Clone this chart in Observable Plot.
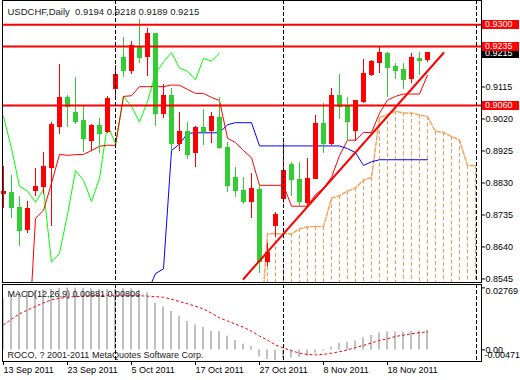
<!DOCTYPE html>
<html><head><meta charset="utf-8">
<script src="https://cdn.jsdelivr.net/npm/d3@7"></script>
<script src="https://cdn.jsdelivr.net/npm/@observablehq/plot@0.6"></script>
<style>
html,body{margin:0;padding:0;background:#fff;}
#chart{width:520px;height:380px;overflow:hidden;background:#fff;}
#chart svg{display:block;}
</style></head><body><div id="chart"></div>
<script>
// ---- Daily USDCHF bars, 13 Sep 2011 (index 0) .. 25 Nov 2011 (index 53)
const open  = [0.8797,0.8799,0.8757,0.8689,0.8805,0.8818,0.8874,0.8996,0.9083,0.9039,
               0.9013,0.8956,0.9000,0.8981,0.9108,0.9200,0.9162,0.9230,0.9204,0.9271,
               0.9034,0.9087,0.8945,0.8980,0.8918,0.8992,0.8984,0.9024,0.8935,0.8846,
               0.8805,0.8775,0.8808,0.8595,0.8703,0.8782,0.8882,0.8840,0.8772,0.8841,
               0.9004,0.8945,0.9087,0.9060,0.8984,0.9070,0.9150,0.9187,0.9214,0.9175,
               0.9164,0.9138,0.9198,0.9194];
const high  = [0.8880,0.8852,0.8790,0.8775,0.8872,0.8921,0.9010,0.9182,0.9090,0.9143,
               0.9057,0.9003,0.9021,0.9086,0.9180,0.9261,0.9250,0.9315,0.9290,0.9273,
               0.9122,0.9111,0.9039,0.9010,0.8998,0.9048,0.9039,0.9084,0.8949,0.8876,
               0.8846,0.8858,0.8823,0.8649,0.8742,0.8960,0.8891,0.8891,0.8903,0.9030,
               0.9066,0.9111,0.9152,0.9084,0.9072,0.9198,0.9195,0.9233,0.9218,0.9184,
               0.9186,0.9215,0.9217,0.9218];
const low   = [0.8755,0.8725,0.8642,0.8681,0.8791,0.8796,0.8702,0.8973,0.8994,0.9003,
               0.8921,0.8924,0.8917,0.8977,0.9074,0.9144,0.9151,0.9184,0.9145,0.8999,
               0.9022,0.8926,0.8924,0.8901,0.8877,0.8941,0.8948,0.8930,0.8803,0.8788,
               0.8767,0.8725,0.8562,0.8582,0.8669,0.8770,0.8790,0.8761,0.8761,0.8841,
               0.8918,0.8941,0.9018,0.8954,0.8954,0.9067,0.9146,0.9154,0.9083,0.9136,
               0.9107,0.9125,0.9149,0.9189];
const close = [0.8802,0.8755,0.8686,0.8754,0.8817,0.8876,0.9001,0.9081,0.9055,0.9011,
               0.8960,0.9000,0.8975,0.9080,0.9152,0.9162,0.9236,0.9201,0.9271,0.9035,
               0.9087,0.8945,0.8980,0.8913,0.8992,0.8980,0.9027,0.8933,0.8820,0.8806,
               0.8773,0.8811,0.8595,0.8621,0.8736,0.8867,0.8838,0.8775,0.8843,0.9004,
               0.8945,0.9087,0.9057,0.9011,0.9072,0.9155,0.9189,0.9217,0.9171,0.9162,
               0.9136,0.9200,0.9192,0.9215];

// ---- Ichimoku lines
const tenkan = [null,null,null,0.8300,0.8725,0.8749,0.8829,0.8915,0.8912,0.8914,
                0.8915,0.8926,0.8939,0.8942,0.8942,0.9087,0.9089,0.9116,0.9116,0.9116,
                0.9116,0.9121,0.9120,0.9108,0.9096,0.9096,0.9084,0.9075,0.8963,0.8950,
                0.8926,0.8905,0.8823,0.8823,0.8823,0.8823,0.8761,0.8761,0.8761,0.8796,
                0.8814,0.8847,0.8911,0.8957,0.8957,0.8980,0.8980,0.9037,0.9076,0.9087,
                0.9094,0.9094,0.9094,0.9150];
const kijun  = [null,null,null,null,null,null,null,null,null,null,
                null,null,null,null,null,null,null,null,0.8506,0.8561,
                0.8575,0.8926,0.8946,0.8977,0.8979,0.8979,0.8979,0.8979,0.9003,0.9009,
                0.9009,0.9009,0.8940,0.8940,0.8940,0.8940,0.8940,0.8940,0.8940,0.8940,
                0.8940,0.8940,0.8940,0.8932,0.8920,0.8882,0.8893,0.8899,0.8899,0.8899,
                0.8899,0.8899,0.8899,0.8899];
const chikouShift = 26;
// Senkou spans for bars 32..59 (span B lies below the visible range)
const senkouStart = 32;
const senkouA = [0.8350,0.8679,0.8679,0.8679,0.8679,0.8694,0.8700,0.8701,0.8701,0.8785,
                 0.8792,0.8806,0.8815,0.8839,0.8846,0.9024,0.9033,0.9043,0.9038,0.9038,
                 0.9032,0.9027,0.8983,0.8980,0.8968,0.8957,0.8882,0.8882];
const senkouB = [0.8160,0.8160,0.8160,0.8160,0.8160,0.8160,0.8160,0.8160,0.8160,0.8160,
                 0.8160,0.8160,0.8160,0.8160,0.8160,0.8160,0.8160,0.8160,0.8160,0.8160,
                 0.8160,0.8190,0.8190,0.8190,0.8190,0.8190,0.8190,0.8190];

// ---- MACD(12,26,9)
const macd   = [0.0228,0.0248,0.0255,0.0260,0.0264,0.0267,0.0270,0.0274,0.0276,0.02769,
                0.0275,0.0273,0.0270,0.0270,0.0272,0.0274,0.0273,0.0268,0.0255,0.0208,
                0.0191,0.0171,0.0150,0.0128,0.0112,0.0101,0.0083,0.0082,0.0062,0.0042,
                0.0025,0.0015,-0.0032,-0.0044,-0.00471,-0.0038,-0.0035,-0.0033,-0.0028,-0.0015,
                -0.0006,0.0012,0.0030,0.0033,0.0040,0.0054,0.0064,0.0077,0.0080,0.0080,
                0.0079,0.0082,0.0084,0.00881];
const signal = [0.0112,0.0137,0.0161,0.0178,0.0194,0.0210,0.0224,0.0230,0.0235,0.0238,
                0.0240,0.0242,0.0243,0.0244,0.0244,0.0244,0.0243,0.0242,0.0240,0.0238,
                0.0235,0.0226,0.0216,0.0206,0.0195,0.0183,0.0164,0.0143,0.0129,0.0115,
                0.0101,0.0083,0.0062,0.0044,0.0022,0.0008,-0.0003,-0.0015,-0.0020,-0.0022,
                -0.0020,-0.0015,-0.0008,0.0000,0.0010,0.0020,0.0031,0.0042,0.0050,0.0060,
                0.0066,0.0072,0.0077,0.00806];

// ---- levels, trend line, separators, ticks
const levels = [0.9300, 0.9235, 0.9060];
const trendAnchors = [{i: 30, p: 0.8545}, {i: 55, p: 0.9216}];
const separators = [14, 35, 59.125];
const priceTicks = [0.9115, 0.9020, 0.8925, 0.8830, 0.8735, 0.8640, 0.8545];
const macdTicks = [0.02769, 0, -0.00471];
const dateTicks = [0, 8, 16, 24, 32, 40, 48];
const dateLabels = ["13 Sep 2011","23 Sep 2011","5 Oct 2011","17 Oct 2011","27 Oct 2011","8 Nov 2011","18 Nov 2011"];
const symbol = "USDCHF,Daily";

// ---- tables
const bars = close.map((c, i) => ({i, o: open[i], h: high[i], l: low[i], c}));
const tenkanRows = tenkan.map((v, i) => ({i, v})).filter(d => d.v != null);
const kijunRows = kijun.map((v, i) => ({i, v})).filter(d => d.v != null);
const chikouRows = close.slice(chikouShift).map((v, k) => ({i: k, v}));
const cloud = senkouA.map((a, k) => ({i: senkouStart + k, a, b: senkouB[k]}));
const macdRows = macd.map((m, i) => ({i, m, s: signal[i]}));
const dateMap = new Map(dateTicks.map((t, k) => [t, dateLabels[k]]));

const RED = "#ff0000", GREEN = "#32cd32", LIME = "#00ff00", BLUE = "#0000ff", SANDY = "#f4a460", HATCH = "#f09a50";
const font = "'Liberation Sans', Arial, sans-serif";
const xDomain = [-0.125, 59.75];
const style = {fontFamily: font, fontSize: "9px", background: "#fff", color: "#000", overflow: "visible"};
const last = bars[bars.length - 1];
const f4 = d3.format(".4f");

const main = Plot.plot({
  width: 520, height: 283,
  marginLeft: 2, marginRight: 39, marginTop: 0, marginBottom: 1,
  x: {domain: xDomain, axis: null},
  y: {domain: [0.85345, 0.93718], axis: null},
  style,
  marks: [
    Plot.ruleX(cloud, {x: "i", y1: "a", y2: "b", stroke: HATCH, strokeOpacity: 1, strokeWidth: 1, strokeDasharray: "4,2.5", clip: true}),
    Plot.line(cloud, {x: "i", y: "b", stroke: "#d8bfd8", clip: true}),
    Plot.line(cloud, {x: "i", y: "a", stroke: SANDY, strokeDasharray: "4,2", clip: true}),
    Plot.line(chikouRows, {x: "i", y: "v", stroke: LIME, strokeWidth: 1, clip: true}),
    Plot.line(tenkanRows, {x: "i", y: "v", stroke: RED, strokeWidth: 1, clip: true}),
    Plot.line(kijunRows, {x: "i", y: "v", stroke: BLUE, strokeWidth: 1, clip: true}),
    Plot.ruleX(bars, {x: "i", y1: "l", y2: "h", stroke: d => d.c >= d.o ? RED : GREEN, strokeWidth: 1, shapeRendering: "crispEdges"}),
    Plot.rect(bars, {x1: d => d.i - 0.3125, x2: d => d.i + 0.3125, y1: "o", y2: "c",
      fill: d => d.c >= d.o ? RED : GREEN, insetTop: -0.5, insetBottom: -0.5, shapeRendering: "crispEdges"}),
    Plot.ruleY(levels, {stroke: RED, strokeWidth: 2}),
    Plot.line(trendAnchors, {x: "i", y: "p", stroke: RED, strokeWidth: 2, clip: true}),
    Plot.ruleX(separators, {stroke: "#000", strokeDasharray: "4,2", shapeRendering: "crispEdges"}),
    Plot.frame({stroke: "#000"}),
    Plot.axisY(priceTicks, {anchor: "right", tickSize: 3, tickPadding: 1, tickFormat: f4, label: null, fontSize: 9}),
    Plot.text([`${symbol}\u00a0\u00a0${f4(last.o)} ${f4(last.h)} ${f4(last.l)} ${f4(last.c)}`],
      {frameAnchor: "top-left", dx: 5, dy: 11, textAnchor: "start", lineAnchor: "middle", fontSize: 9.5, fill: "#1a1a1a"})
  ]
});

const lower = Plot.plot({
  width: 520, height: 97,
  marginLeft: 2, marginRight: 39, marginTop: 1, marginBottom: 19,
  x: {domain: xDomain, axis: null},
  y: {domain: [-0.005179, 0.0292], axis: null},
  style,
  marks: [
    Plot.ruleX(macdRows, {x: "i", y1: () => 0, y2: "m", stroke: "#c0c0c0", strokeWidth: 2, dx: -0.5}),
    Plot.line(macdRows, {x: "i", y: "s", stroke: RED, strokeWidth: 1, strokeDasharray: "2,3"}),
    Plot.ruleX(separators, {stroke: "#000", strokeDasharray: "4,2", shapeRendering: "crispEdges"}),
    Plot.frame({stroke: "#000"}),
    Plot.axisX(dateTicks, {anchor: "bottom", tickSize: 4, tickPadding: 1, tickFormat: d => dateMap.get(d),
      textAnchor: "start", label: null, fontSize: 9}),
    Plot.axisY(macdTicks.slice(0, 2), {anchor: "right", tickSize: 3, tickFormat: () => "", label: null}),
    Plot.text([macdTicks[0]], {y: d => d, text: d => d.toFixed(5), frameAnchor: "right", textAnchor: "start", dx: 4, dy: 3, fontSize: 9}),
    Plot.text([macdTicks[1]], {y: d => d, text: d => d.toFixed(2), frameAnchor: "right", textAnchor: "start", dx: 4, dy: 0, fontSize: 9}),
    Plot.text([macdTicks[2]], {y: d => d, text: d => d.toFixed(5), frameAnchor: "right", textAnchor: "start", dx: 3, dy: -5, fontSize: 9}),
    Plot.text([`MACD(12,26,9) ${macd[macd.length-1].toFixed(5)} ${signal[signal.length-1].toFixed(5)}`],
      {frameAnchor: "top-left", dx: 5, dy: 10, textAnchor: "start", lineAnchor: "middle", fontSize: 9, fill: "#1a1a1a"}),
    Plot.text(["ROCO, ? 2001-2011 MetaQuotes Software Corp."],
      {frameAnchor: "bottom-left", dx: 5, dy: -6, textAnchor: "start", lineAnchor: "middle", fontSize: 9, fill: "#1a1a1a"})
  ]
});

// price tags on the right axis, positioned with Plot's own scales
(function addTags() {
  const sy = main.scale("y"), sx = main.scale("x");
  const fy = sy.apply ? (v => sy.apply(v)) : d3.scaleLinear(sy.domain, sy.range);
  const xr = Math.max(...sx.range);
  const g = d3.select(main).append("g")
    .attr("font-family", font).attr("font-size", 9).attr("text-anchor", "start");
  function tag(v, bg) {
    const y = fy(v);
    g.append("rect").attr("x", xr + 1).attr("y", Math.round(y) - 4).attr("width", 37).attr("height", 9).attr("fill", bg);
    g.append("text").attr("x", xr + 4).attr("y", y).attr("dy", "0.34em")
      .attr("text-anchor", "start").attr("fill", "#fff").text(f4(v));
  }
  tag(last.c, "#000");
  levels.forEach(v => tag(v, RED));
})();

const root = document.getElementById("chart");
root.appendChild(main);
root.appendChild(lower);
</script>
</body></html>
